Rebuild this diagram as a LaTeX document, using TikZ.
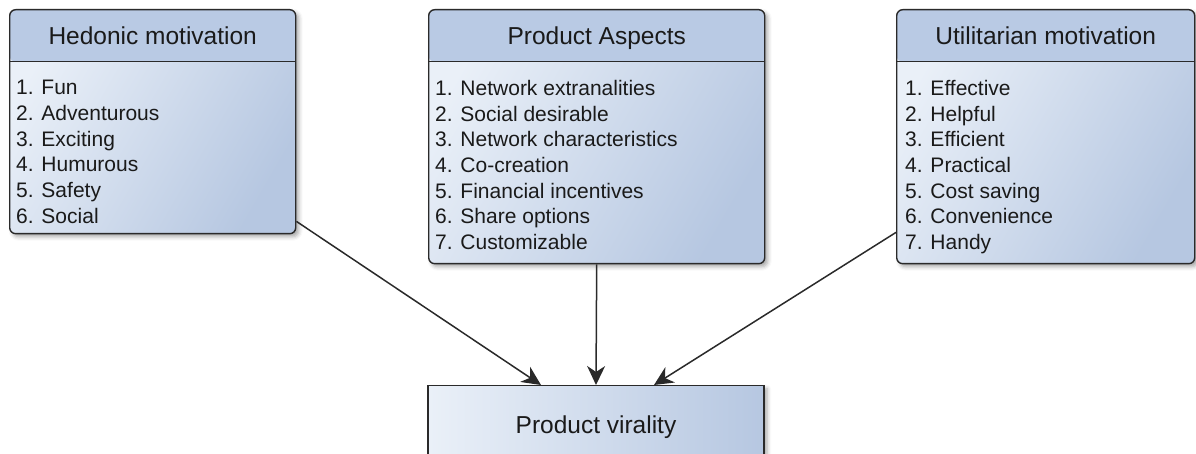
\documentclass[tikz,border=0pt]{standalone}
\usepackage{fontspec}
\setmainfont{Liberation Sans}
\usetikzlibrary{arrows.meta,shadows.blur}

\definecolor{headfill}{HTML}{B9CAE4}
\definecolor{bodylight}{HTML}{EAF0F8}
\definecolor{bodydark}{HTML}{B6C7E1}
\definecolor{edge}{HTML}{2A2A2A}
\definecolor{ink}{HTML}{1A1A1A}

\tikzset{
  softshadow/.style={blur shadow={shadow xshift=3pt, shadow yshift=-3pt,
      shadow blur radius=4pt, shadow opacity=35}},
  bodyshade/.style={top color=bodylight, bottom color=bodydark, shading angle=60},
  panel/.style={draw=edge, line width=1.4pt, rounded corners=6pt,
    anchor=north west, inner sep=0pt, bodyshade, softshadow,
    path picture={
      \fill[headfill] (path picture bounding box.north west) rectangle
        ([yshift=-52pt]path picture bounding box.north east);
      \draw[edge, line width=1.4pt]
        ([yshift=-52pt]path picture bounding box.north west) --
        ([yshift=-52pt]path picture bounding box.north east);
    }},
  target/.style={draw=edge, line width=1.4pt, anchor=north, inner sep=0pt,
    left color=bodylight, right color=bodydark, softshadow,
    font=\fontsize{24.5}{28}\selectfont, text=ink,
    text height=17pt, text depth=0pt},
  title/.style={anchor=base, inner sep=0pt, text=ink,
    font=\fontsize{24.5}{28}\selectfont},
  items/.style={anchor=north west, inner sep=0pt, align=left, text=ink,
    font=\fontsize{21}{25.7}\selectfont},
  arr/.style={draw=edge, line width=1.5pt,
    -{Stealth[length=19pt, width=18pt, inset=6pt]}},
}

\begin{document}
\begin{tikzpicture}[x=1pt, y=-1pt]
  \useasboundingbox (0,0) rectangle (1196,454);

  % three source panels
  \node[panel, minimum width=286pt, minimum height=224pt] (hed) at (9,9) {};
  \node[panel, minimum width=336pt, minimum height=254pt] (pa) at (428,9) {};
  \node[panel, minimum width=298pt, minimum height=254pt] (util) at (896,9) {};

  % panel titles
  \node[title] (hedtitle) at ([yshift=-35.5pt]hed.north) {Hedonic motivation};
  \node[title] (patitle) at ([yshift=-35.5pt]pa.north) {Product Aspects};
  \node[title] (utiltitle) at ([yshift=-35.5pt]util.north) {Utilitarian motivation};

  % panel contents
  \node[items] (hedlist) at ([xshift=7pt, yshift=-71pt]hed.north west)
    {1. Fun\\2. Adventurous\\3. Exciting\\4. Humurous\\5. Safety\\6. Social};
  \node[items] (palist) at ([xshift=7pt, yshift=-71pt]pa.north west)
    {1. Network extranalities\\2. Social desirable\\3. Network characteristics\\4. Co-creation\\5. Financial incentives\\6. Share options\\7. Customizable};
  \node[items] (utillist) at ([xshift=9pt, yshift=-71pt]util.north west)
    {1. Effective\\2. Helpful\\3. Efficient\\4. Practical\\5. Cost saving\\6. Convenience\\7. Handy};

  % outcome
  \node[target, minimum width=336pt, minimum height=79pt] (vir) at (596,385)
    {Product virality};

  % influences
  \draw[arr] ([yshift=13pt]hed.south east) -- ([xshift=-55pt]vir.north);
  \draw[arr] (pa.south) -- (vir.north);
  \draw[arr] ([yshift=32pt]util.south west) -- ([xshift=58pt]vir.north);
\end{tikzpicture}
\end{document}
